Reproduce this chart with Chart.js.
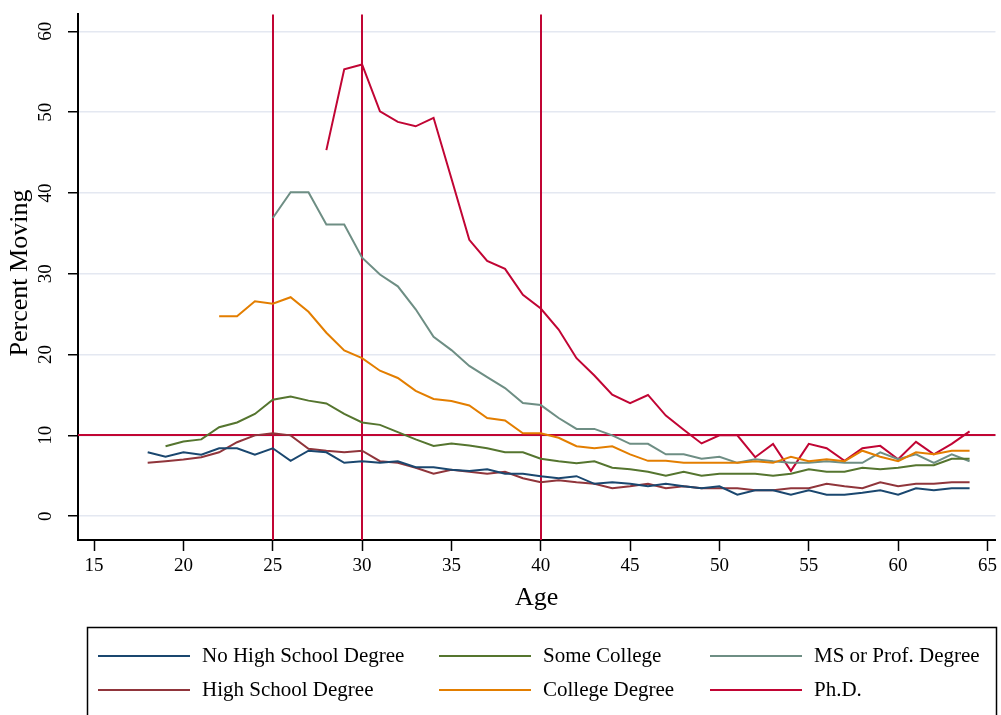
<!DOCTYPE html>
<html>
<head>
<meta charset="utf-8">
<script src="https://cdn.jsdelivr.net/npm/chart.js@4.4.0/dist/chart.umd.min.js"></script>
<style>
  body { margin: 0; background: #fff; }
</style>
</head>
<body>
<canvas id="chart" width="1001" height="715"></canvas>
<script>
// ages on the x axis
const ages = [18, 19, 20, 21, 22, 23, 24, 25, 26, 27,
              28, 29, 30, 31, 32, 33, 34, 35, 36, 37,
              38, 39, 40, 41, 42, 43, 44, 45, 46, 47,
              48, 49, 50, 51, 52, 53, 54, 55, 56, 57,
              58, 59, 60, 61, 62, 63, 64];

// percent moving, by education
const noHighSchool = [7.9, 7.35, 7.9, 7.6, 8.4, 8.4, 7.6, 8.4, 6.85, 8.1,
                      7.9, 6.6, 6.8, 6.6, 6.8, 6.05, 6.05, 5.75, 5.6, 5.8,
                      5.25, 5.25, 4.95, 4.7, 4.95, 4.0, 4.2, 4.0, 3.7, 4.0,
                      3.7, 3.45, 3.7, 2.65, 3.2, 3.2, 2.65, 3.2, 2.65, 2.65,
                      2.9, 3.2, 2.65, 3.45, 3.2, 3.45, 3.45];
const highSchool = [6.6, 6.8, 7.0, 7.3, 7.9, 9.15, 10.0, 10.25, 10.0, 8.35,
                    8.1, 7.9, 8.1, 6.8, 6.6, 6.0, 5.25, 5.75, 5.5, 5.25,
                    5.5, 4.7, 4.2, 4.45, 4.2, 4.0, 3.45, 3.7, 4.0, 3.45,
                    3.7, 3.45, 3.45, 3.45, 3.2, 3.2, 3.45, 3.45, 4.0, 3.7,
                    3.45, 4.2, 3.7, 4.0, 4.0, 4.2, 4.2];
const someCollege = [null, 8.65, 9.25, 9.5, 11.0, 11.6, 12.65, 14.4, 14.8, 14.3,
                     13.95, 12.65, 11.6, 11.3, 10.4, 9.5, 8.7, 9.0, 8.75, 8.4,
                     7.9, 7.9, 7.1, 6.8, 6.55, 6.8, 6.0, 5.8, 5.5, 5.0,
                     5.5, 5.0, 5.25, 5.25, 5.25, 5.0, 5.25, 5.8, 5.5, 5.5,
                     6.0, 5.8, 6.0, 6.3, 6.3, 7.1, 7.1];
const collegeDegree = [null, null, null, null, 24.75, 24.75, 26.6, 26.3, 27.1, 25.3,
                       22.7, 20.5, 19.55, 18.0, 17.1, 15.5, 14.5, 14.25, 13.7, 12.15,
                       11.85, 10.25, 10.25, 9.7, 8.65, 8.4, 8.65, 7.65, 6.85, 6.85,
                       6.6, 6.6, 6.6, 6.6, 6.8, 6.6, 7.35, 6.8, 7.05, 6.8,
                       8.1, 7.35, 6.8, 7.9, 7.65, 8.1, 8.1];
const msProf = [null, null, null, null, null, null, null, 36.9, 40.1, 40.1,
                36.1, 36.1, 32.0, 29.9, 28.45, 25.6, 22.2, 20.55, 18.6, 17.2,
                15.85, 14.0, 13.75, 12.15, 10.8, 10.8, 10.0, 8.95, 8.95, 7.65,
                7.65, 7.1, 7.35, 6.6, 7.05, 6.8, 6.6, 6.6, 6.8, 6.6,
                6.6, 7.9, 7.05, 7.65, 6.6, 7.65, 6.8];
const phd = [null, null, null, null, null, null, null, null, null, null,
             45.3, 55.3, 55.9, 50.1, 48.8, 48.25, 49.3, 41.8, 34.2, 31.6,
             30.6, 27.4, 25.7, 23.1, 19.55, 17.4, 15.05, 14.0, 15.0, 12.45,
             10.7, 9.0, 10.0, 10.0, 7.3, 8.95, 5.6, 8.95, 8.4, 6.85,
             8.4, 8.7, 7.05, 9.2, 7.65, 8.95, 10.5];

const xTicks = [15, 20, 25, 30, 35, 40, 45, 50, 55, 60, 65];
const yTicks = [0, 10, 20, 30, 40, 50, 60];
const xRefLines = [25, 30, 40];
const yRefLines = [10];

const serif = '"Liberation Serif", "Times New Roman", serif';
const refColor = '#c10534';

function line(label, data, color) {
    return {
        label: label,
        data: data,
        borderColor: color,
        backgroundColor: color,
        borderWidth: 2,
        pointRadius: 0,
        tension: 0,
        spanGaps: false
    };
}

// reference lines, y tick labels, y title and the boxed legend
const extras = {
    id: 'extras',
    beforeDatasetsDraw(chart) {
        const ctx = chart.ctx;
        const a = chart.chartArea;
        const x = chart.scales.x, y = chart.scales.y;
        ctx.save();
        ctx.strokeStyle = refColor;
        ctx.lineWidth = 2;
        xRefLines.forEach(v => {
            const px = Math.round(x.getPixelForValue(v));
            ctx.beginPath();
            ctx.moveTo(px, a.top);
            ctx.lineTo(px, a.bottom);
            ctx.stroke();
        });
        yRefLines.forEach(v => {
            const py = Math.round(y.getPixelForValue(v));
            ctx.beginPath();
            ctx.moveTo(a.left, py);
            ctx.lineTo(a.right, py);
            ctx.stroke();
        });
        ctx.restore();
    },
    afterDraw(chart) {
        const ctx = chart.ctx;
        const a = chart.chartArea;
        const y = chart.scales.y;
        ctx.save();
        ctx.fillStyle = '#000';
        ctx.textAlign = 'center';
        ctx.textBaseline = 'middle';

        // y tick labels, rotated like the original
        ctx.font = '19px ' + serif;
        yTicks.forEach(v => {
            ctx.save();
            ctx.translate(46, y.getPixelForValue(v));
            ctx.rotate(-Math.PI / 2);
            ctx.fillText(String(v), 0, 0);
            ctx.restore();
        });

        // y title
        ctx.font = '26px ' + serif;
        ctx.save();
        ctx.translate(20, 273);
        ctx.rotate(-Math.PI / 2);
        ctx.fillText('Percent Moving', 0, 0);
        ctx.restore();

        // legend box
        ctx.strokeStyle = '#000';
        ctx.lineWidth = 1.5;
        ctx.strokeRect(87.5, 627.5, 909, 120);

        const colX = [98, 439, 710];
        const rowY = [656, 690];
        ctx.font = '21px ' + serif;
        ctx.textAlign = 'left';
        chart.data.datasets.forEach((ds, i) => {
            const cx = colX[Math.floor(i / 2)];
            const cy = rowY[i % 2];
            ctx.strokeStyle = ds.borderColor;
            ctx.lineWidth = 2;
            ctx.beginPath();
            ctx.moveTo(cx, cy);
            ctx.lineTo(cx + 92, cy);
            ctx.stroke();
            ctx.fillText(ds.label, cx + 104, cy);
        });
        ctx.restore();
    }
};

new Chart(document.getElementById('chart'), {
    type: 'line',
    data: {
        labels: ages,
        datasets: [
            line('No High School Degree', noHighSchool, '#1a476f'),
            line('High School Degree', highSchool, '#90353b'),
            line('Some College', someCollege, '#55752f'),
            line('College Degree', collegeDegree, '#e37e00'),
            line('MS or Prof. Degree', msProf, '#6e8e84'),
            line('Ph.D.', phd, '#c10534')
        ]
    },
    options: {
        responsive: false,
        animation: false,
        devicePixelRatio: 1,
        layout: { padding: { left: 0, right: 5, top: 12, bottom: 99 } },
        plugins: {
            legend: { display: false },
            tooltip: { enabled: false }
        },
        scales: {
            x: {
                type: 'linear',
                min: 14.1,
                max: 65.45,
                afterBuildTicks: s => { s.ticks = xTicks.map(v => ({ value: v })); },
                afterFit: s => { s.height = 76; },
                grid: {
                    drawOnChartArea: false,
                    drawTicks: true,
                    tickLength: 11,
                    tickColor: '#000',
                    tickWidth: 1.5
                },
                border: { display: true, color: '#000', width: 2 },
                ticks: {
                    color: '#000',
                    padding: 4,
                    maxRotation: 0,
                    font: { family: serif, size: 19 }
                },
                title: {
                    display: true,
                    text: 'Age',
                    color: '#000',
                    padding: { top: 2, bottom: 2 },
                    font: { family: serif, size: 26 }
                }
            },
            y: {
                min: -2.95,
                max: 62.1,
                afterBuildTicks: s => { s.ticks = yTicks.map(v => ({ value: v })); },
                afterFit: s => { s.width = 78; },
                grid: {
                    color: '#e4e8f1',
                    lineWidth: 1.5,
                    drawTicks: true,
                    tickLength: 10,
                    tickColor: '#000',
                    tickWidth: 1.5
                },
                border: { display: true, color: '#000', width: 2 },
                ticks: { color: 'rgba(0,0,0,0)', font: { family: serif, size: 19 } }
            }
        }
    },
    plugins: [extras]
});
</script>
</body>
</html>
